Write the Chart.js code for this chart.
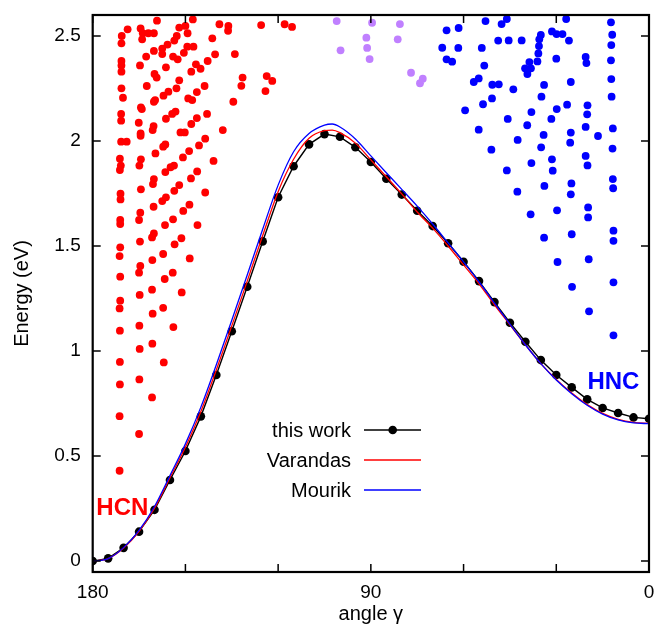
<!DOCTYPE html>
<html>
<head>
<meta charset="utf-8">
<script src="https://cdn.jsdelivr.net/npm/chart.js@4.4.0/dist/chart.umd.min.js"></script>
<style>
  html, body { margin: 0; padding: 0; background: #fff; }
  #wrap { width: 655px; height: 633px; }
</style>
</head>
<body>
<div id="wrap"><canvas id="chart" width="655" height="633"></canvas></div>
<script>
// minimum energy path, "this work" (every 5 degrees)
const pathAngles = [180, 175, 170, 165, 160, 155, 150, 145, 140, 135, 130, 125, 120, 115, 110, 105, 100,
    95, 90, 85, 80, 75, 70, 65, 60, 55, 50, 45, 40, 35, 30, 25, 20, 15, 10, 5, 0];
const thisWork = [0, 0.013, 0.063, 0.14, 0.244, 0.386, 0.524, 0.689, 0.886, 1.094, 1.306, 1.522, 1.732, 1.88,
    1.984, 2.033, 2.02, 1.97, 1.9, 1.82, 1.745, 1.668, 1.595, 1.513, 1.425, 1.333, 1.233, 1.135, 1.044, 0.957,
    0.886, 0.827, 0.77, 0.729, 0.705, 0.684, 0.678];

const curveAngles = [180, 175, 170, 165, 160, 155, 150, 145, 140, 135, 130, 125, 120, 115, 110, 105, 102.5, 100,
    95, 90, 85, 80, 75, 70, 65, 60, 55, 50, 45, 40, 35, 30, 25, 20, 15, 10, 5, 0];
const varandas = [0, 0.012, 0.062, 0.142, 0.252, 0.397, 0.542, 0.712, 0.91, 1.12, 1.333, 1.55, 1.759, 1.913,
    2.013, 2.049, 2.052, 2.04, 1.99, 1.91, 1.83, 1.748, 1.662, 1.585, 1.5, 1.41, 1.32, 1.22, 1.125, 1.03, 0.94,
    0.865, 0.8, 0.745, 0.703, 0.675, 0.66, 0.656];
const mourik = [0, 0.012, 0.064, 0.146, 0.26, 0.407, 0.558, 0.733, 0.935, 1.147, 1.362, 1.58, 1.79, 1.949,
    2.036, 2.076, 2.081, 2.067, 2.01, 1.929, 1.849, 1.77, 1.69, 1.605, 1.515, 1.425, 1.33, 1.228, 1.128, 1.03,
    0.94, 0.862, 0.797, 0.742, 0.7, 0.672, 0.658, 0.654];

// vibrational levels [angle, energy]
const hcnLevels = [
    [168.7, 2.532], [170.6, 2.5], [170.7, 2.465], [164.5, 2.536], [163.8, 2.513], [162.0, 2.513], [160.2, 2.513],
    [164.0, 2.484], [159.2, 2.573], [152.0, 2.54], [150.0, 2.548], [149.3, 2.513], [147.6, 2.579], [152.8, 2.5],
    [153.6, 2.478], [139.0, 2.556], [136.1, 2.548], [136.2, 2.525], [125.5, 2.552], [141.3, 2.489], [117.9, 2.556],
    [115.5, 2.543], [170.7, 2.381], [170.7, 2.36], [170.7, 2.33], [164.7, 2.36], [162.7, 2.402], [160.2, 2.429],
    [157.5, 2.44], [155.8, 2.459], [157.5, 2.414], [154.0, 2.402], [152.5, 2.389], [149.4, 2.449], [147.4, 2.449],
    [150.5, 2.42], [140.4, 2.413], [142.8, 2.381], [134.0, 2.414], [156.3, 2.351], [146.6, 2.365], [145.1, 2.344],
    [148.1, 2.33], [160.0, 2.319], [159.3, 2.302], [170.7, 2.251], [170.2, 2.206], [162.5, 2.262], [152.0, 2.289],
    [152.9, 2.251], [155.5, 2.235], [157.1, 2.216], [143.8, 2.262], [146.3, 2.233], [131.5, 2.302], [131.9, 2.263],
    [123.7, 2.309], [121.9, 2.286], [124.1, 2.238], [134.5, 2.187], [149.1, 2.203], [147.8, 2.195], [159.8, 2.195],
    [160.2, 2.187], [164.4, 2.16], [164.1, 2.152], [170.8, 2.129], [170.8, 2.097], [153.2, 2.14], [154.3, 2.129],
    [156.3, 2.106], [146.3, 2.109], [143.0, 2.129], [165.1, 2.087], [160.3, 2.071], [160.6, 2.052], [151.6, 2.041],
    [150.2, 2.041], [148.1, 2.081], [137.9, 2.052], [170.8, 1.997], [169.0, 1.997], [164.5, 2.036], [164.5, 2.025],
    [156.5, 1.984], [157.2, 1.973], [159.7, 1.941], [148.8, 1.952], [145.6, 1.979], [143.6, 2.011], [171.2, 1.916],
    [170.9, 1.883], [171.2, 1.862], [164.4, 1.913], [164.9, 1.883], [153.7, 1.883], [154.8, 1.875], [150.8, 1.922],
    [140.9, 1.905], [156.5, 1.852], [146.2, 1.855], [148.2, 1.822], [160.2, 1.819], [160.5, 1.795], [164.4, 1.77],
    [152.0, 1.79], [153.6, 1.763], [171.0, 1.749], [143.6, 1.755], [156.3, 1.732], [171.0, 1.722], [157.5, 1.714],
    [160.3, 1.687], [148.7, 1.697], [150.7, 1.667], [164.6, 1.659], [165.0, 1.624], [171.1, 1.624], [171.1, 1.605],
    [154.0, 1.627], [156.6, 1.6], [160.2, 1.56], [160.8, 1.541], [146.1, 1.6], [164.7, 1.521], [151.3, 1.537],
    [153.5, 1.508], [171.1, 1.494], [171.3, 1.452], [157.2, 1.462], [160.7, 1.433], [148.6, 1.441], [164.6, 1.405],
    [165.0, 1.373], [154.1, 1.373], [156.7, 1.343], [171.1, 1.354], [160.8, 1.292], [164.8, 1.267], [151.2, 1.279],
    [171.1, 1.24], [171.3, 1.203], [157.2, 1.206], [160.6, 1.178], [164.9, 1.121], [153.9, 1.114], [171.2, 1.097],
    [164.8, 1.01], [160.7, 1.035], [171.2, 0.948], [157.0, 0.946], [164.9, 0.865], [171.2, 0.841], [160.8, 0.779],
    [171.3, 0.69], [165.0, 0.605], [171.3, 0.43]
];
const bridgeLevels = [
    [101.05, 2.571], [89.6, 2.563], [80.6, 2.557], [91.45, 2.492], [81.3, 2.484], [99.8, 2.432], [91.2, 2.443],
    [90.4, 2.39], [77.0, 2.325], [73.2, 2.297], [74.1, 2.275]
];
const hncLevels = [
    [65.5, 2.527], [66.9, 2.444], [65.5, 2.389], [61.6, 2.538], [61.7, 2.443], [63.7, 2.378], [52.9, 2.571],
    [47.7, 2.557], [46.0, 2.581], [54.1, 2.443], [48.8, 2.478], [45.4, 2.479], [41.2, 2.479], [53.3, 2.359],
    [56.7, 2.281], [55.1, 2.298], [50.7, 2.268], [48.6, 2.27], [43.9, 2.246], [50.8, 2.203], [53.7, 2.175],
    [59.5, 2.146], [35.0, 2.505], [35.5, 2.484], [35.6, 2.452], [35.8, 2.417], [36.1, 2.379], [38.7, 2.376],
    [40.1, 2.346], [38.2, 2.346], [39.35, 2.319], [31.4, 2.522], [29.9, 2.509], [28.0, 2.509], [26.8, 2.581],
    [25.9, 2.478], [30.0, 2.392], [33.95, 2.267], [34.8, 2.211], [25.3, 2.281], [20.5, 2.4], [20.25, 2.371],
    [12.3, 2.565], [11.9, 2.506], [12.2, 2.457], [12.3, 2.384], [12.2, 2.295], [12.1, 2.211], [26.5, 2.173],
    [29.85, 2.152], [38.05, 2.138], [45.7, 2.105], [39.4, 2.075], [31.6, 2.105], [55.1, 2.054], [42.5, 2.005],
    [34.1, 2.029], [34.9, 1.97], [25.3, 2.04], [25.5, 1.992], [19.9, 2.17], [20.0, 2.127], [20.5, 2.067],
    [16.5, 2.024], [11.7, 2.06], [11.8, 1.964], [20.5, 1.929], [19.9, 1.884], [51.0, 1.959], [46.0, 1.86],
    [38.05, 1.895], [31.4, 1.913], [31.15, 1.859], [42.6, 1.759], [33.85, 1.786], [25.1, 1.798], [25.3, 1.746],
    [11.7, 1.819], [11.6, 1.775], [38.3, 1.651], [29.75, 1.67], [19.7, 1.684], [19.7, 1.636], [33.95, 1.54],
    [25.0, 1.556], [11.5, 1.573], [11.5, 1.525], [29.6, 1.424], [19.5, 1.437], [24.9, 1.306], [11.5, 1.327],
    [19.4, 1.189], [11.5, 1.075]
];

const xTicks = [0, 30, 60, 90, 120, 150, 180];
const xLabels = [0, 90, 180];
const yTicks = [0, 0.5, 1, 1.5, 2, 2.5];

const FONT = "'Liberation Sans', Arial, Helvetica, sans-serif";

function toXY(xs, ys) {
    return xs.map((x, i) => ({ x: x, y: ys[i] }));
}
function pairs(list) {
    return list.map(p => ({ x: p[0], y: p[1] }));
}

// gnuplot-like frame with inward ticks, legend and labels
const framePlugin = {
    id: 'frame',
    afterDraw(chart) {
        const ctx = chart.ctx;
        const a = chart.chartArea;
        const xs = chart.scales.x, ys = chart.scales.y;
        ctx.save();
        ctx.strokeStyle = '#000';
        ctx.lineWidth = 1.5;
        ctx.beginPath();
        xTicks.forEach(v => {
            const px = xs.getPixelForValue(v);
            ctx.moveTo(px, a.bottom); ctx.lineTo(px, a.bottom - 8);
            ctx.moveTo(px, a.top); ctx.lineTo(px, a.top + 8);
        });
        yTicks.forEach(v => {
            const py = ys.getPixelForValue(v);
            ctx.moveTo(a.left, py); ctx.lineTo(a.left + 8, py);
            ctx.moveTo(a.right, py); ctx.lineTo(a.right - 8, py);
        });
        ctx.stroke();
        ctx.lineWidth = 2.2;
        ctx.strokeRect(a.left, a.top, a.right - a.left, a.bottom - a.top);

        // legend
        const rows = [
            { text: 'this work', color: '#000', width: 1.4, dot: true },
            { text: 'Varandas', color: '#ff0000', width: 1.3 },
            { text: 'Mourik', color: '#0000ff', width: 1.3 }
        ];
        ctx.font = '20px ' + FONT;
        ctx.textAlign = 'right';
        ctx.textBaseline = 'middle';
        rows.forEach((r, i) => {
            const y = 430 + i * 30;
            ctx.fillStyle = '#000';
            ctx.fillText(r.text, 351, y + 1);
            ctx.strokeStyle = r.color;
            ctx.lineWidth = r.width;
            ctx.beginPath();
            ctx.moveTo(364, y); ctx.lineTo(421, y);
            ctx.stroke();
            if (r.dot) {
                ctx.fillStyle = '#000';
                ctx.beginPath();
                ctx.arc(392.7, y, 4.3, 0, Math.PI * 2);
                ctx.fill();
            }
        });

        // molecule labels
        ctx.font = 'bold 24px ' + FONT;
        ctx.textAlign = 'center';
        ctx.fillStyle = '#ff0000';
        ctx.fillText('HCN', xs.getPixelForValue(170.4), ys.getPixelForValue(0.252));
        ctx.fillStyle = '#0000ff';
        ctx.fillText('HNC', xs.getPixelForValue(11.5), ys.getPixelForValue(0.852));
        ctx.restore();
    }
};

const ctx = document.getElementById('chart').getContext('2d');
const chart = new Chart(ctx, {
    type: 'scatter',
    data: {
        datasets: [
            {
                label: 'HCN levels', data: pairs(hcnLevels), order: 6,
                backgroundColor: '#ff0000', borderWidth: 0, pointRadius: 3.9, pointBorderWidth: 0
            },
            {
                label: 'bridge levels', data: pairs(bridgeLevels), order: 5,
                backgroundColor: '#c080ff', borderWidth: 0, pointRadius: 3.9, pointBorderWidth: 0
            },
            {
                label: 'HNC levels', data: pairs(hncLevels), order: 4,
                backgroundColor: '#0000ff', borderWidth: 0, pointRadius: 3.9, pointBorderWidth: 0
            },
            {
                label: 'this work', data: toXY(pathAngles, thisWork), order: 3,
                showLine: true, borderColor: '#000', borderWidth: 1.4, backgroundColor: '#000',
                pointRadius: 4.3, pointBorderWidth: 0, tension: 0
            },
            {
                label: 'Varandas', data: toXY(curveAngles, varandas), order: 2,
                showLine: true, borderColor: '#ff0000', borderWidth: 1.3, pointRadius: 0,
                cubicInterpolationMode: 'monotone'
            },
            {
                label: 'Mourik', data: toXY(curveAngles, mourik), order: 1,
                showLine: true, borderColor: '#0000ff', borderWidth: 1.3, pointRadius: 0,
                cubicInterpolationMode: 'monotone'
            }
        ]
    },
    options: {
        responsive: false,
        animation: false,
        layout: { padding: { top: 15, right: 6, bottom: 0, left: 0 } },
        plugins: { legend: { display: false }, tooltip: { enabled: false } },
        scales: {
            x: {
                type: 'linear', min: 0, max: 180, reverse: true,
                afterBuildTicks: s => { s.ticks = xTicks.map(v => ({ value: v })); },
                afterFit: s => { s.height = 61; s.paddingLeft = 0; s.paddingRight = 0; },
                grid: { display: false, drawTicks: false },
                border: { display: false },
                ticks: {
                    autoSkip: false, maxRotation: 0, padding: 9, color: '#000',
                    font: { family: FONT, size: 19 },
                    callback: v => xLabels.includes(v) ? String(v) : ''
                },
                title: {
                    display: true, text: 'angle γ', color: '#000',
                    font: { family: FONT, size: 20 }, padding: { top: 0, bottom: 7 }
                }
            },
            y: {
                type: 'linear', min: -0.052, max: 2.6,
                afterBuildTicks: s => { s.ticks = yTicks.map(v => ({ value: v })); },
                afterFit: s => { s.width = 92.7; s.paddingTop = 0; s.paddingBottom = 0; },
                grid: { display: false, drawTicks: false },
                border: { display: false },
                ticks: {
                    padding: 12, color: '#000',
                    font: { family: FONT, size: 19 },
                    callback: v => String(v)
                },
                title: {
                    display: true, text: 'Energy (eV)', color: '#000',
                    font: { family: FONT, size: 20 }, padding: { top: 10, bottom: 0 }
                }
            }
        }
    },
    plugins: [framePlugin]
});
</script>
</body>
</html>
